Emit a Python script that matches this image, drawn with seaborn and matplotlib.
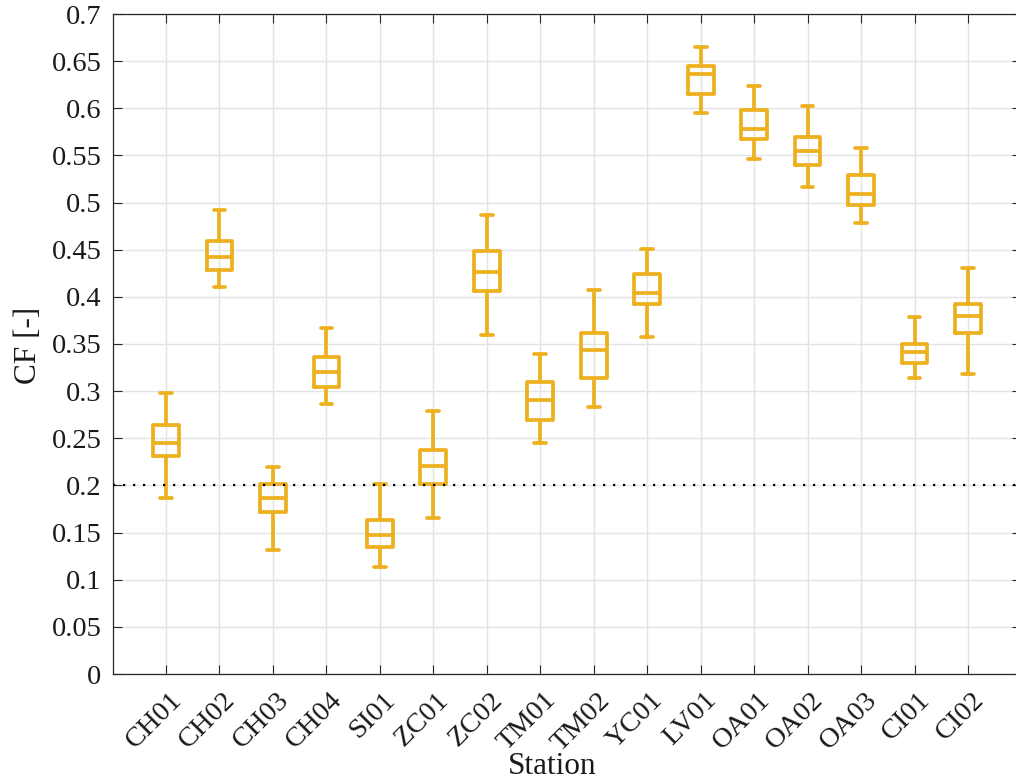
import matplotlib
matplotlib.use("Agg")
import matplotlib.pyplot as plt
import matplotlib.ticker as mticker
import matplotlib.transforms as mtransforms
import seaborn as sns
import pandas as pd

stations = ["CH01", "CH02", "CH03", "CH04", "SI01", "ZC01", "ZC02", "TM01",
            "TM02", "YC01", "LV01", "OA01", "OA02", "OA03", "CI01", "CI02"]
cf_min = [0.187, 0.410, 0.132, 0.286, 0.114, 0.165, 0.360, 0.245,
          0.283, 0.357, 0.595, 0.546, 0.517, 0.478, 0.314, 0.318]
cf_q1 = [0.231, 0.429, 0.172, 0.304, 0.135, 0.202, 0.406, 0.269,
         0.314, 0.392, 0.615, 0.567, 0.540, 0.497, 0.330, 0.362]
cf_med = [0.245, 0.442, 0.187, 0.320, 0.147, 0.221, 0.426, 0.291,
          0.344, 0.404, 0.636, 0.578, 0.555, 0.509, 0.342, 0.380]
cf_q3 = [0.264, 0.459, 0.201, 0.336, 0.163, 0.238, 0.449, 0.310,
         0.362, 0.424, 0.645, 0.598, 0.570, 0.529, 0.350, 0.392]
cf_max = [0.298, 0.492, 0.220, 0.367, 0.202, 0.279, 0.487, 0.339,
          0.407, 0.451, 0.665, 0.624, 0.602, 0.558, 0.379, 0.431]
threshold = 0.2

rows = []
for i, s in enumerate(stations):
    for v in (cf_min[i], cf_q1[i], cf_med[i], cf_q3[i], cf_max[i]):
        rows.append({"Station": s, "CF": v})
df = pd.DataFrame(rows)

sns.set_theme(style="white")
plt.rcParams["font.family"] = ["Liberation Serif", "DejaVu Serif"]

fig = plt.figure(figsize=(10.16, 7.82), dpi=100)
W, H = 1016, 782
left, right, top, bottom = 112.5, 1021.5, 14, 674
ax = fig.add_axes([left / W, 1 - bottom / H, (right - left) / W, (bottom - top) / H])

color = "#EDB120"
lw = 2.7
sns.boxplot(data=df, x="Station", y="CF", order=stations, ax=ax,
            fill=False, color=color, width=0.48, linewidth=lw, whis=(0, 100),
            capwidths=0.22,
            boxprops=dict(color=color, linewidth=lw),
            medianprops=dict(color=color, linewidth=lw),
            whiskerprops=dict(color=color, linewidth=lw),
            capprops=dict(color=color, linewidth=lw),
            showfliers=False)

ax.axhline(threshold, color="black", linestyle=(0, (1, 3.5)), linewidth=1.6, zorder=3)

ax.set_xlim(-1, len(stations))
ax.set_ylim(0, 0.7)
ax.yaxis.set_major_locator(mticker.MultipleLocator(0.05))
ax.yaxis.set_major_formatter(mticker.FuncFormatter(lambda v, p: "%g" % round(v, 2)))

ax.grid(True, color="#e3e3e3", linewidth=1.0)
ax.set_axisbelow(True)
for sp in ax.spines.values():
    sp.set_visible(True)
    sp.set_color("#262626")
    sp.set_linewidth(0.9)

ax.tick_params(axis="both", direction="in", length=6.5, width=0.8, color="#262626",
               labelsize=20.5, labelcolor="#1a1a1a", top=True, right=True, left=True, bottom=True)
ax.tick_params(axis="y", pad=8)
ax.tick_params(axis="x", pad=4)
offset = mtransforms.ScaledTranslation(0.12, -0.17, fig.dpi_scale_trans)
for lab in ax.get_xticklabels():
    lab.set_rotation(45)
    lab.set_ha("right")
    lab.set_va("center")
    lab.set_rotation_mode("anchor")
    lab.set_transform(lab.get_transform() + offset)

ax.set_xlabel("Station", fontsize=22.5, color="#1a1a1a")
ax.set_ylabel("CF [-]", fontsize=22.5, color="#1a1a1a")
ax.xaxis.set_label_coords((552 - left) / (right - left), -(767 - bottom) / (bottom - top))
ax.yaxis.set_label_coords((28 - left) / (right - left), (bottom - 345.5) / (bottom - top))
ax.xaxis.label.set_va("center")
ax.yaxis.label.set_va("center")

fig.savefig("out.png", dpi=100)
